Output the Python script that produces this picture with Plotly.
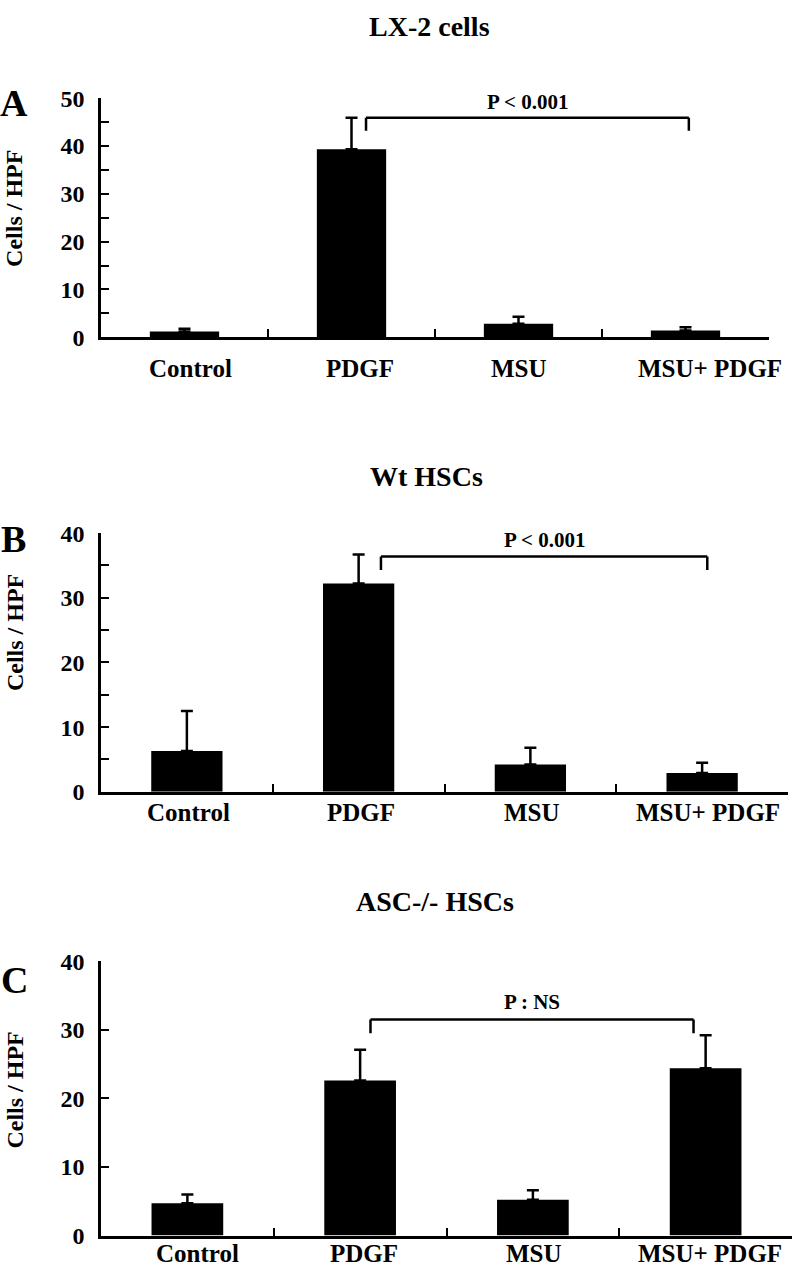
import plotly.graph_objects as go

categories = ["Control", "PDGF", "MSU", "MSU+ PDGF"]

a_means = [1.2, 39.3, 2.8, 1.4]
a_err = [0.6, 6.6, 1.5, 0.7]
b_means = [6.3, 32.2, 4.2, 2.9]
b_err = [6.2, 4.5, 2.6, 1.6]
c_means = [4.7, 22.6, 5.2, 24.4]
c_err = [1.3, 4.5, 1.4, 4.8]

panel_titles = ["LX-2 cells", "Wt HSCs", "ASC-/- HSCs"]
panel_letters = ["A", "B", "C"]
p_labels = ["P < 0.001", "P < 0.001", "P : NS"]
y_max = [50, 40, 40]
y_minor = [5, 5, 10]
# significance brackets: (left index, right index, top value, end value)
brackets = [(1.087, 3.02, 45.9, 43.2), (1.13, 3.03, 36.4, 34.3), (1.06, 2.93, 31.5, 29.5)]
p_label_y = [49.2, 39.0, 34.0]
label_xshift = [[6, 8, 0, 24], [2, 2, 2, 6], [10, 4, 1, 4]]

W, H = 796, 1274
FONT = "Liberation Serif"

def px(x):
    return x / W

def py(y):
    return 1 - y / H

# layout geometry in page pixels
x_left = 101
x_right = [769, 788, 792]
y_top_px = [87, 531, 968]
y_bot_px = [331, 795, 1248]
title_px = [(430, 14), (426, 473), (435, 907)]
letter_px = [(14, 92), (13, 537), (14, 987)]
ytitle_px = [(14, 200), (15, 633), (15, 1100)]
xlabel_y = [363, 816, 1266]

data_sets = [(a_means, a_err), (b_means, b_err), (c_means, c_err)]

fig = go.Figure()
layout = dict(width=W, height=H, margin=dict(l=0, r=0, t=0, b=0),
              plot_bgcolor="white", paper_bgcolor="white", showlegend=False)
annotations = []
shapes = []

for i in range(3):
    xa = "x" if i == 0 else f"x{i+1}"
    ya = "y" if i == 0 else f"y{i+1}"
    means, err = data_sets[i]
    fig.add_trace(go.Bar(
        x=categories, y=means, xaxis=xa, yaxis=ya,
        marker=dict(color="black", line=dict(width=0)),
        width=0.415,
        error_y=dict(type="data", array=err, arrayminus=[0] * len(err), symmetric=False,
                     color="black", thickness=2.5, width=6),
    ))
    xkey = "xaxis" if i == 0 else f"xaxis{i+1}"
    ykey = "yaxis" if i == 0 else f"yaxis{i+1}"
    layout[xkey] = dict(
        domain=[px(x_left), px(x_right[i])], anchor=ya, type="category",
        range=[-0.5, 3.5], showline=True, linecolor="black", linewidth=2.5,
        ticks="inside", tickson="boundaries", ticklen=8, tickwidth=2, tickcolor="black",
        showgrid=False, zeroline=False, showticklabels=False,
    )
    tv = list(range(0, y_max[i] + 1, y_minor[i]))
    tt = [str(v) if v % 10 == 0 else "" for v in tv]
    layout[ykey] = dict(
        domain=[py(y_bot_px[i]), py(y_top_px[i])], anchor=xa,
        range=[0, y_max[i]], showline=True, linecolor="black", linewidth=2.5,
        ticks="inside", ticklen=8, tickwidth=2, tickcolor="black",
        tickvals=tv, ticktext=tt, showgrid=False, zeroline=False,
        tickfont=dict(family=FONT, size=24, color="black", weight="bold"),
        ticklabelstandoff=9,
    )
    # category labels
    for j, cat in enumerate(categories):
        annotations.append(dict(xref=xa, yref="paper", x=j, y=py(xlabel_y[i]),
                                xshift=label_xshift[i][j], text=cat, showarrow=False,
                                xanchor="center", yanchor="middle",
                                font=dict(family=FONT, size=25, color="black", weight="bold")))
    # bracket
    x0, x1, yt, ye = brackets[i]
    for (ax0, ay0, ax1, ay1) in [(x0, ye, x0, yt), (x0, yt, x1, yt), (x1, yt, x1, ye)]:
        shapes.append(dict(type="line", xref=xa, yref=ya, x0=ax0, y0=ay0, x1=ax1, y1=ay1,
                           line=dict(color="black", width=2.5)))
    annotations.append(dict(xref=xa, yref=ya, x=(x0 + x1) / 2, y=p_label_y[i],
                            text=p_labels[i], showarrow=False, yanchor="middle",
                            font=dict(family=FONT, size=21, color="black", weight="bold")))
    tx, ty = title_px[i]
    annotations.append(dict(xref="paper", yref="paper", x=px(tx), y=py(ty),
                            text=panel_titles[i], showarrow=False, xanchor="center", yanchor="middle",
                            font=dict(family=FONT, size=28, color="black", weight="bold")))
    lx, ly = letter_px[i]
    annotations.append(dict(xref="paper", yref="paper", x=px(lx), y=py(ly),
                            text=panel_letters[i], showarrow=False, xanchor="center", yanchor="middle",
                            font=dict(family=FONT, size=38, color="black", weight="bold")))
    yx, yy = ytitle_px[i]
    annotations.append(dict(xref="paper", yref="paper", x=px(yx), y=py(yy),
                            text="Cells / HPF", showarrow=False, textangle=-90,
                            xanchor="center", yanchor="middle",
                            font=dict(family=FONT, size=24, color="black", weight="bold")))

layout["annotations"] = annotations
layout["shapes"] = shapes
fig.update_layout(**layout)
fig.write_html("out.html", config={"displayModeBar": False},
               post_script="document.body.style.margin='0';document.body.style.overflow='hidden';")
